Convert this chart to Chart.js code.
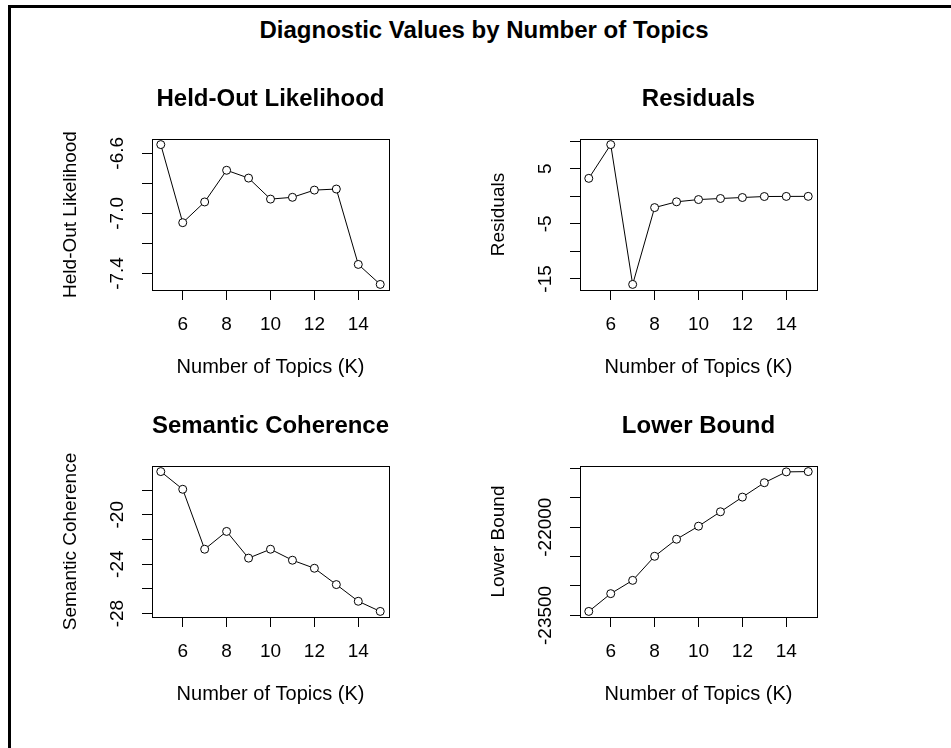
<!DOCTYPE html>
<html>
<head>
<meta charset="utf-8">
<script src="https://cdn.jsdelivr.net/npm/chart.js@4/dist/chart.umd.min.js"></script>
<style>
  html, body { margin: 0; padding: 0; background: #fff; }
  body { width: 951px; height: 748px; position: relative; overflow: hidden; font-family: "Liberation Sans", Arial, sans-serif; }
  #frameTop { position: absolute; left: 8px; top: 5px; width: 943px; height: 3px; background: #000; }
  #frameLeft { position: absolute; left: 8px; top: 5px; width: 3px; height: 743px; background: #000; }
  #mainTitle { position: absolute; left: 0; top: 15px; width: 968px; text-align: center; font-weight: bold; font-size: 24px; line-height: 30px; color: #000; }
  canvas { position: absolute; }
</style>
</head>
<body>
<div id="frameTop"></div>
<div id="frameLeft"></div>
<div id="mainTitle">Diagnostic Values by Number of Topics</div>
<canvas id="c1" width="475" height="327" style="left:0px;top:60px"></canvas>
<canvas id="c2" width="476" height="327" style="left:475px;top:60px"></canvas>
<canvas id="c3" width="475" height="327" style="left:0px;top:387px"></canvas>
<canvas id="c4" width="476" height="327" style="left:475px;top:387px"></canvas>
<script>
// ---- data ----
const topicsK = [5, 6, 7, 8, 9, 10, 11, 12, 13, 14, 15];
const heldOutLikelihood = [-6.542, -7.062, -6.924, -6.713, -6.765, -6.905, -6.893, -6.845, -6.838, -7.340, -7.473];
const residuals = [3.26, 9.39, -16.0, -2.05, -1.0, -0.59, -0.40, -0.22, -0.04, -0.02, -0.01];
const semanticCoherence = [-16.51, -17.94, -22.79, -21.35, -23.51, -22.79, -23.68, -24.33, -25.65, -27.0, -27.82];
const lowerBound = [-23432, -23130, -22904, -22495, -22205, -21983, -21738, -21489, -21244, -21060, -21055];

const xTicks = [6, 8, 10, 12, 14];
const heldOutTicks = [-7.4, -7.2, -7.0, -6.8, -6.6];
const heldOutTickLabels = ["-7.4", "-7.0", "-6.6"];
const residualTicks = [-15, -10, -5, 0, 5, 10];
const residualTickLabels = ["-15", "-5", "5"];
const coherenceTicks = [-28, -26, -24, -22, -20, -18];
const coherenceTickLabels = ["-28", "-24", "-20"];
const boundTicks = [-23500, -23000, -22500, -22000, -21500, -21000];
const boundTickLabels = ["-23500", "-22000"];

const FONT = '"Liberation Sans", Arial, sans-serif';

const panels = [
  { id: 'c1', title: 'Held-Out Likelihood', ylab: 'Held-Out Likelihood', values: heldOutLikelihood, ticks: heldOutTicks, labels: heldOutTickLabels, padL: 59, padR: 86 },
  { id: 'c2', title: 'Residuals', ylab: 'Residuals', values: residuals, ticks: residualTicks, labels: residualTickLabels, padL: 12, padR: 134 },
  { id: 'c3', title: 'Semantic Coherence', ylab: 'Semantic Coherence', values: semanticCoherence, ticks: coherenceTicks, labels: coherenceTickLabels, padL: 59, padR: 86 },
  { id: 'c4', title: 'Lower Bound', ylab: 'Lower Bound', values: lowerBound, ticks: boundTicks, labels: boundTickLabels, padL: 12, padR: 134 }
];

function extRange(arr) {
  const mn = Math.min(...arr), mx = Math.max(...arr);
  const d = (mx - mn) * 0.04;
  return [mn - d, mx + d];
}

const boxPlugin = {
  id: 'rbox',
  afterDraw(chart, args, opts) {
    const { ctx, chartArea: a } = chart;
    const ys = chart.scales.y;
    ctx.save();
    ctx.strokeStyle = '#000';
    ctx.lineWidth = 1;
    ctx.strokeRect(Math.round(a.left) + 0.5, Math.round(a.top) + 0.5, Math.round(a.right - a.left), Math.round(a.bottom - a.top));
    ctx.fillStyle = '#000';
    ctx.font = '19px ' + FONT;
    ctx.textAlign = 'center';
    ctx.textBaseline = 'middle';
    (opts.labels || []).forEach(lbl => {
      const py = ys.getPixelForValue(Number(lbl));
      ctx.save();
      ctx.translate(a.left - 34, py);
      ctx.rotate(-Math.PI / 2);
      ctx.fillText(lbl, 0, 0);
      ctx.restore();
    });
    ctx.restore();
  }
};

panels.forEach(p => {
  const [ymin, ymax] = extRange(p.values);
  const [xmin, xmax] = extRange(topicsK);
  new Chart(document.getElementById(p.id), {
    type: 'line',
    data: {
      datasets: [{
        data: topicsK.map((k, i) => ({ x: k, y: p.values[i] })),
        borderColor: '#000',
        borderWidth: 1,
        tension: 0,
        pointRadius: 4,
        pointBorderWidth: 1,
        pointBorderColor: '#000',
        pointBackgroundColor: '#fff',
        fill: false
      }]
    },
    options: {
      responsive: false,
      animation: false,
      devicePixelRatio: 1,
      layout: { padding: { left: p.padL, right: p.padR, top: 0, bottom: 8 } },
      plugins: {
        legend: { display: false },
        tooltip: { enabled: false },
        title: {
          display: true,
          text: p.title,
          fullSize: false,
          color: '#000',
          font: { family: FONT, size: 24, weight: 'bold', lineHeight: 1.2 },
          padding: { top: 25, bottom: 25.2 }
        },
        rbox: { labels: p.labels }
      },
      scales: {
        x: {
          type: 'linear',
          min: xmin, max: xmax,
          offset: false,
          afterBuildTicks: s => { s.ticks = xTicks.map(v => ({ value: v })); },
          afterFit: s => { s.height = 89; },
          grid: { drawOnChartArea: false, drawTicks: true, tickLength: 10, color: '#000', lineWidth: 1 },
          border: { display: false },
          ticks: { color: '#000', font: { family: FONT, size: 19 }, padding: 13, maxRotation: 0, autoSkip: false },
          title: { display: true, text: 'Number of Topics (K)', color: '#000', font: { family: FONT, size: 20 }, padding: 0 }
        },
        y: {
          type: 'linear',
          min: ymin, max: ymax,
          afterBuildTicks: s => { s.ticks = p.ticks.map(v => ({ value: v })); },
          afterFit: s => { s.width = 93; },
          grid: { drawOnChartArea: false, drawTicks: true, tickLength: 10, color: '#000', lineWidth: 1 },
          border: { display: false },
          ticks: { display: false },
          title: { display: true, text: p.ylab, color: '#000', font: { family: FONT, size: 19 }, padding: 0 }
        }
      }
    },
    plugins: [boxPlugin]
  });
});
</script>
</body>
</html>
